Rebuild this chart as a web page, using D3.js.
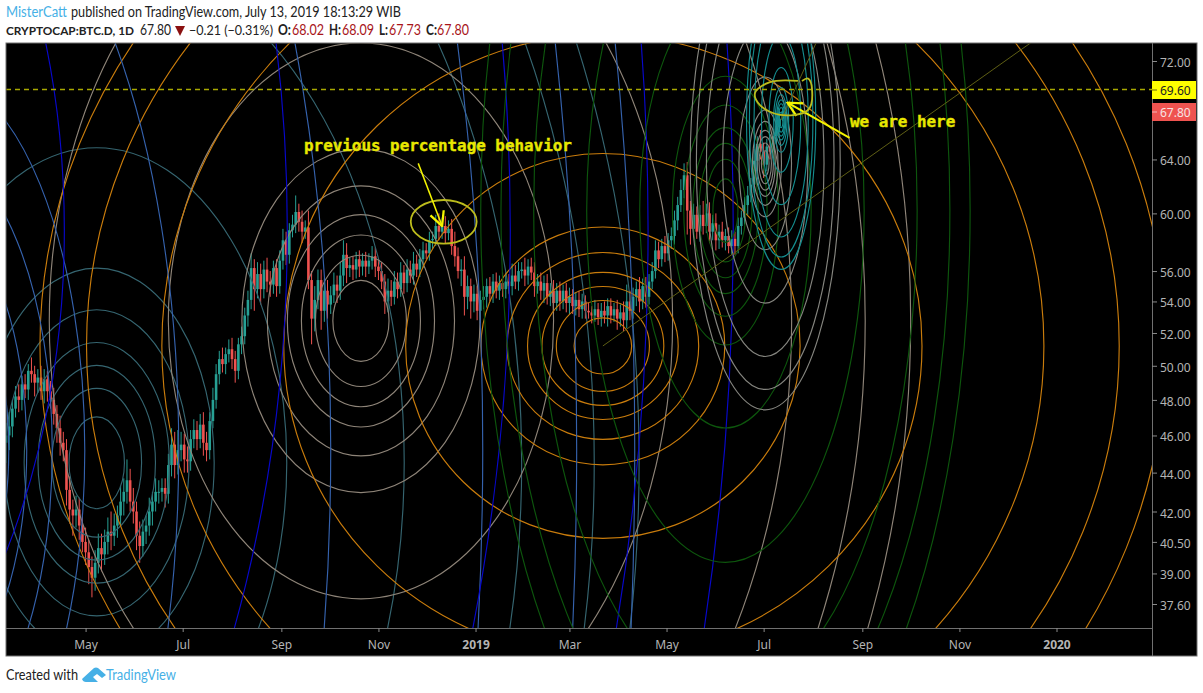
<!DOCTYPE html>
<html><head><meta charset="utf-8">
<script src="https://cdn.jsdelivr.net/npm/d3@7/dist/d3.min.js"></script>
<style>
html,body{margin:0;padding:0;background:#fff;overflow:hidden}
svg{display:block}
text{font-family:"Noto Sans",sans-serif}
</style></head><body><svg id="c" width="1203" height="693"></svg>
<script>
// ---- data ----
const closes=[
46.0,46.5,47.5,48.2,48.0,48.9,48.6,49.7,49.5,49.0,
49.3,48.5,49.2,48.5,48.0,47.2,46.4,45.6,45.2,43.1,
42.1,41.8,42.1,41.3,40.5,40.0,39.3,38.8,39.5,40.2,
39.9,40.5,41.0,40.8,41.3,41.8,42.5,43.0,43.6,42.5,
42.0,40.8,40.3,41.0,41.3,42.0,42.5,43.0,43.0,43.2,
42.9,44.4,45.5,44.4,45.2,45.5,44.7,44.6,45.8,46.3,
45.8,46.6,45.6,45.2,46.8,48.0,49.5,50.4,50.1,50.7,
51.0,50.4,49.7,51.3,51.8,53.1,54.1,56.2,54.8,55.8,
54.8,56.1,55.3,55.1,56.2,55.0,56.7,58.1,57.1,58.8,
59.2,60.1,59.4,58.7,59.0,55.4,52.9,54.1,55.4,53.4,
54.7,53.8,54.4,55.1,54.7,55.7,57.1,56.2,56.4,56.1,
56.8,56.3,56.7,56.3,56.7,57.0,56.3,56.0,55.3,54.0,
54.7,54.3,55.3,54.8,55.9,55.2,56.1,55.7,56.5,56.1,
56.8,57.4,57.2,58.1,58.2,59.1,58.7,59.1,58.6,58.9,
57.7,57.0,56.0,56.1,54.3,55.0,54.0,54.5,53.4,54.1,
54.3,55.0,54.5,55.3,54.7,55.2,54.8,55.3,55.0,55.7,
55.3,56.0,56.1,55.7,56.3,55.9,55.0,55.3,54.7,55.2,
54.3,54.7,53.9,54.7,54.0,54.7,53.9,54.3,53.7,54.1,
53.5,54.0,53.4,53.3,53.1,53.5,53.0,53.4,53.1,53.7,
53.1,53.5,52.9,53.3,52.8,54.0,53.4,54.3,54.8,54.0,
55.0,54.3,55.3,56.0,57.4,56.8,57.7,57.2,58.1,58.4,
59.5,60.6,61.7,62.8,60.2,58.9,59.9,58.7,59.9,59.1,
60.0,58.7,59.3,58.1,58.7,58.1,58.4,57.7,58.2,57.7,
59.1,59.7,60.6,61.3,62.1,63.9,65.2,64.6,63.6,65.0,
64.6,65.8,66.6,67.2,67.8];
const wickUp=[
.7,.8,.5,.6,.7,.5,.6,.4,.8,.5,
.5,.7,.6,.5,.6,.7,.5,.7,.6,.6,
.7,.5,.7,.6,.6,.7,.6,.5,.6,.7,
.7,.6,.7,1.0,.6,.5,.8,.7,1.1,.6,
.7,.5,.7,.6,.5,.7,.5,.7,.6,.5,
.5,.6,.9,.7,1.1,.7,.6,.7,.5,.6,
.5,.6,.7,.6,.5,.7,.6,.5,.7,.4,
.6,.7,.5,.4,.6,.5,.6,1.0,.6,.8,
.7,.6,.8,.7,.5,.6,.7,.8,.6,.5,
.7,1.2,.6,.8,.5,1.2,.6,.9,.7,.7,
.8,.7,.6,.8,.6,.9,1.0,.8,.5,.6,
.5,.6,.5,.6,.5,.7,.6,.5,.6,.5,
.8,.7,.7,.6,.7,.5,.7,.6,.8,.6,
.7,.6,.5,.6,.5,.8,.9,.6,.7,.6,
.7,1.0,.6,.7,.9,.7,.5,.6,.5,.6,
.7,.5,.6,.5,.6,.5,.7,.6,.5,.8,
.7,.6,.5,.8,.5,.6,.7,.5,.6,.5,
.6,.5,.7,.5,.6,.4,.5,.6,.5,.5,
.6,.5,.4,.5,.4,.6,.4,.5,.6,.5,
.5,.4,.6,.5,.7,1.1,.7,.6,.5,.8,
.5,.6,.5,.6,.7,.6,.5,.7,.5,.6,
.7,.6,.8,.9,1.0,.7,.8,.6,.7,1.0,
.7,.8,.6,.7,.5,.7,.5,.6,.6,.5,
.6,.5,.6,.7,.5,.9,.6,1.1,.7,.6,
.8,.6,.7,.6,.3];
const wickDown=[
1.1,.8,.6,.5,.7,.6,.5,.6,.5,.8,
.6,.5,.7,.6,.5,.6,.8,.7,.6,.8,
.7,1.0,.6,.7,.5,.6,.8,.9,.6,.5,
.8,.5,.6,.7,.5,.6,.5,.7,.6,.5,
.6,.7,.8,.5,.6,.5,.7,.5,.6,.5,
.7,.5,.6,.7,.5,.6,.7,.6,.5,.5,
.6,.5,.7,.6,.5,.4,.5,.6,.5,.6,
.5,.6,.7,.5,.6,.5,.7,.6,1.4,.6,
1.0,.6,.7,.8,.6,.7,.5,.6,.7,.6,
.5,.6,.7,.8,.5,.6,1.6,.8,.6,1.2,
.7,.9,.6,.5,.8,.6,.7,1.0,.6,.7,
.6,.7,.6,.7,.5,.6,.7,.6,.5,.8,
.7,.6,.5,.6,.5,.7,.6,.5,.6,.5,
.5,.6,.4,.5,.6,.5,.6,.5,.7,.5,
.6,.7,.5,1.0,1.2,.8,1.1,.7,.6,.8,
.6,.7,.5,.6,.5,.6,.5,.6,.5,.6,
.5,.6,.5,.7,.6,.5,.7,.5,.6,.8,
.5,.6,.7,.5,.6,.5,.6,.7,.5,.6,
.5,.6,.5,.4,.5,.4,.5,.6,.5,.7,
.5,.4,.7,.5,.7,.5,.6,.5,.6,.7,
.5,.7,.5,.5,.5,.6,.5,.6,.5,.6,
.6,.7,.5,.6,1.7,1.1,.6,.5,.7,.6,
.5,.8,.6,.7,.6,.5,.7,.5,.6,.6,
.5,.6,.5,.7,.5,.6,.7,.6,1.0,.5,
.6,.5,.6,.5,.2];
const lastDate="2019-07-13";
const fibLevels=[.236,.382,.5,.618,.786,1,1.618,2.618,3.618,4.236,4.618];
const fibNames=["slate","beige","orange","blue","navy","green","silver","cyan"];
const fibDates=["2018-05-08","2018-10-21","2019-03-22","2018-01-25","2017-09-03","2019-06-07","2019-07-02","2019-07-12"];
const fibCentres=[44.52,52.76,51.2,45.2,58.8,60.2,63.7,67.1];
const fibEdges=[56.2,64.8,59.03,70.8,91.0,70.7,67.9,69.75];
const fibSpanDays=[73.8,74.8,76.6,95.5,140.1,33.3,10.2,4.7];
const fibColours=["#356570","#8e8478","#c97c0c","#3562ad","#0808cc","#0d560d","#85857f","#148c8e"];
const yTicks=[72,64,60,56,54,52,50,48,46,44,42,40.5,39,37.6];
const xTickDates=["2018-05-01","2018-07-01","2018-09-01","2018-11-01","2019-01-01","2019-03-01","2019-05-01","2019-07-01","2019-09-01","2019-11-01","2020-01-01"];
const xTickLabels=["May","Jul","Sep","Nov","2019","Mar","May","Jul","Sep","Nov","2020"];
const hline=69.6, lastClose=67.8;
// annotations, as date / percent
const ring={date:"2018-12-12",value:59.4,spanDays:20.7,edge:60.97};
const arrowA=[["2018-11-26",63.7],["2018-12-11",59.1]];
const arrowB=[["2019-08-24",65.67],["2019-07-16",68.5]];
const loopDays=[202.6,185,175.6,178.7,191.3,208.9,211.4,208.9,205.1];
const loopVals=[70.3,70.2,69.3,68.3,67.5,67.9,69.6,70.5,70.3];
const trendDates=[["2019-03-22",51.2,"2019-12-19",73.9],["2019-07-12",67.1,"2019-08-04",73.9]];

// ---- scales ----
const L=6,R=1152,T=43,B=628,FR=1197,FB=656;
const parse=d3.utcParse("%Y-%m-%d");
const x=d3.scaleUtc().domain([Date.UTC(2018,2,12),Date.UTC(2020,2,1)]).range([L,R]);
const y=d3.scaleLog().domain([72,37.6]).range([61,604]);
const svg=d3.select("#c");
const SANS='"Noto Sans",sans-serif', HEAD='Lato,"Noto Sans",sans-serif';

// frame
svg.append("rect").attr("x",L).attr("y",T).attr("width",FR-L).attr("height",FB-T).attr("fill","#000").attr("stroke","#707070");
svg.append("defs").append("clipPath").attr("id","plot").append("rect").attr("x",L+.5).attr("y",T+.5).attr("width",R-L-.5).attr("height",B-T-.5);

const plot=svg.append("g").attr("clip-path","url(#plot)");

// candles
const n=closes.length, end=parse(lastDate);
const candles=closes.map((c,i)=>{
  const o=i?closes[i-1]:c-.4;
  return {d:d3.utcDay.offset(end,-2*(n-1-i)),o,c,h:Math.max(o,c)+wickUp[i],l:Math.min(o,c)-wickDown[i]};
});
const UP="#27a094",DN="#ef5350";
const cg=plot.append("g");
cg.selectAll("line").data(candles).join("line")
 .attr("x1",d=>x(d.d)).attr("x2",d=>x(d.d)).attr("y1",d=>y(d.h)).attr("y2",d=>y(d.l))
 .attr("stroke",d=>d.c>=d.o?UP:DN).attr("stroke-width",1);
cg.selectAll("rect").data(candles).join("rect")
 .attr("x",d=>x(d.d)-1.3).attr("width",2.6)
 .attr("y",d=>y(Math.max(d.o,d.c))).attr("height",d=>Math.max(1,Math.abs(y(d.o)-y(d.c))))
 .attr("fill",d=>d.c>=d.o?UP:DN);

// fibonacci circles
fibNames.forEach((name,s)=>{
  const c=parse(fibDates[s]);
  const cx=x(c), cy=y(fibCentres[s]);
  const rx=x(d3.utcHour.offset(c,Math.round(fibSpanDays[s]*24)))-cx;
  const ry=cy-y(fibEdges[s]);
  plot.append("g").attr("data-set",name).selectAll("ellipse").data(fibLevels).join("ellipse")
   .attr("cx",cx).attr("cy",cy).attr("rx",l=>rx*l).attr("ry",l=>ry*l)
   .attr("fill","none").attr("stroke",fibColours[s]).attr("stroke-width",1.15);
});

// trend lines
trendDates.forEach(t=>plot.append("line")
  .attr("x1",x(parse(t[0]))).attr("y1",y(t[1])).attr("x2",x(parse(t[2]))).attr("y2",y(t[3]))
  .attr("stroke","#5e5e14").attr("stroke-width",1));

// horizontal level
const hy=Math.round(y(hline))+.5;
plot.append("line").attr("x1",L).attr("x2",R).attr("y1",hy).attr("y2",hy)
 .attr("stroke","#a8a800").attr("stroke-width",1.7).attr("stroke-dasharray","5 4");

// annotations
const YEL="#f4f400";
svg.select("defs").append("marker").attr("id","head").attr("viewBox","0 0 12 12").attr("refX",11).attr("refY",6)
 .attr("markerWidth",17).attr("markerHeight",17).attr("markerUnits","userSpaceOnUse").attr("orient","auto")
 .append("path").attr("d","M1,1 L11,6 L1,11").attr("fill","none").attr("stroke",YEL).attr("stroke-width",1.6);
{
 const c=parse(ring.date),cx=x(c),cy=y(ring.value);
 plot.append("ellipse").attr("cx",cx).attr("cy",cy).attr("rx",x(d3.utcHour.offset(c,Math.round(ring.spanDays*24)))-cx)
  .attr("ry",cy-y(ring.edge)).attr("fill","none").attr("stroke","#bcbc1c").attr("stroke-width",1.8);
}
[arrowA,arrowB].forEach((a,i)=>plot.append("line")
  .attr("x1",x(parse(a[0][0]))).attr("y1",y(a[0][1])).attr("x2",x(parse(a[1][0]))).attr("y2",y(a[1][1]))
  .attr("stroke",YEL).attr("stroke-width",i?2:1.5).attr("marker-end","url(#head)"));
const jan=parse("2019-01-01");
plot.append("path").attr("fill","none").attr("stroke","#bcbc1c").attr("stroke-width",1.8)
 .attr("d",d3.line().curve(d3.curveCatmullRom)
   .x((d,i)=>x(d3.utcHour.offset(jan,Math.round(d*24)))).y((d,i)=>y(loopVals[i]))(loopDays));
const noteFont='"DejaVu Sans Mono",monospace';
[["previous percentage behavior",304,151],["we are here",850,127]].forEach(([t,xx,yy])=>
 plot.append("text").attr("x",xx).attr("y",yy).text(t)
 .attr("fill","#e8e800").attr("stroke","#e8e800").attr("stroke-width",.35).attr("font-weight","bold").attr("font-size",15.9).style("font-family",noteFont));

// axes
const axisCol="#b4b4b4";
const ya=svg.append("g").attr("transform",`translate(${R},0)`)
 .call(d3.axisRight(y).tickValues(yTicks).tickFormat(d3.format(".2f")).tickSize(5).tickPadding(3));
ya.select(".domain").attr("stroke","#707070").attr("d",`M0.5,${T}V${FB}`);
ya.selectAll(".tick line").attr("stroke","#8a8a8a");
ya.selectAll("text").attr("fill",axisCol).attr("font-size",12).attr("font-family",SANS).attr("dy",".46em");
const xa=svg.append("g").attr("transform",`translate(0,${B})`)
 .call(d3.axisBottom(x).tickValues(xTickDates.map(parse)).tickFormat((d,i)=>xTickLabels[i]).tickSize(4).tickPadding(8));
xa.select(".domain").attr("stroke","#707070").attr("d",`M${L},0.5H${R}`);
xa.selectAll(".tick line").attr("stroke","#8a8a8a");
xa.selectAll("text").attr("fill",axisCol).attr("font-size",12).attr("font-family",SANS)
  .attr("font-weight",(d,i)=>/^20/.test(xTickLabels[i])?"bold":"normal");

// price tags
[[hline,"#ffff00","#222"],[lastClose,"#ef5350","#f7e4e4"]].forEach(([v,bg,fg],i)=>{
  const yy=i?112:90;
  svg.append("rect").attr("x",R).attr("y",yy-9).attr("width",FR-R-1).attr("height",18).attr("fill",bg);
  svg.append("line").attr("x1",R).attr("x2",R+5).attr("y1",yy).attr("y2",yy).attr("stroke",fg).attr("opacity",.7);
  svg.append("text").attr("x",R+8).attr("y",yy+4.6).text(d3.format(".2f")(v)).attr("fill",fg).attr("font-size",12);
});

// header
const head=(t,xx,yy,w,col,bold,fs)=>svg.append("text").attr("x",xx).attr("y",yy).text(t).attr("fill",col)
  .attr("font-size",fs||14.5).attr("font-weight",bold?"bold":"normal").attr("textLength",w).attr("lengthAdjust","spacingAndGlyphs").style("font-family",HEAD);
const BLUE="#46b0e6",INK="#222",RED="#a8151a";
head("MisterCatt",6,17,61,BLUE);
head("published on TradingView.com, July 13, 2019 18:13:29 WIB",71,17,330,INK);
head("CRYPTOCAP:BTC.D, 1D",6,35,128,INK,true,12.2);
head("67.80",140,35,31,INK);
svg.append("path").attr("d","M175,26H185L180,36Z").attr("fill","#8b1010");
head("−0.21 (−0.31%)",189,35,84,INK,false,13);
head("O:",278,35,13,INK,true); head("68.02",292,35,32,RED);
head("H:",329,35,12,INK,true); head("68.09",342,35,32,RED);
head("L:",379,35,9,INK,true);  head("67.73",389,35,32,RED);
head("C:",426,35,11,INK,true); head("67.80",437,35,32,RED);

// footer
head("Created with",6,680,72,INK);
svg.append("path").attr("d","M82,679 L94,668 Q96,667 98,668 L106,675 L102,678 L97,674 L93,677 L98,682 L86,682 Q83,682 82,679Z").attr("fill",BLUE);
head("TradingView",106,680,70,BLUE);
</script></body></html>
